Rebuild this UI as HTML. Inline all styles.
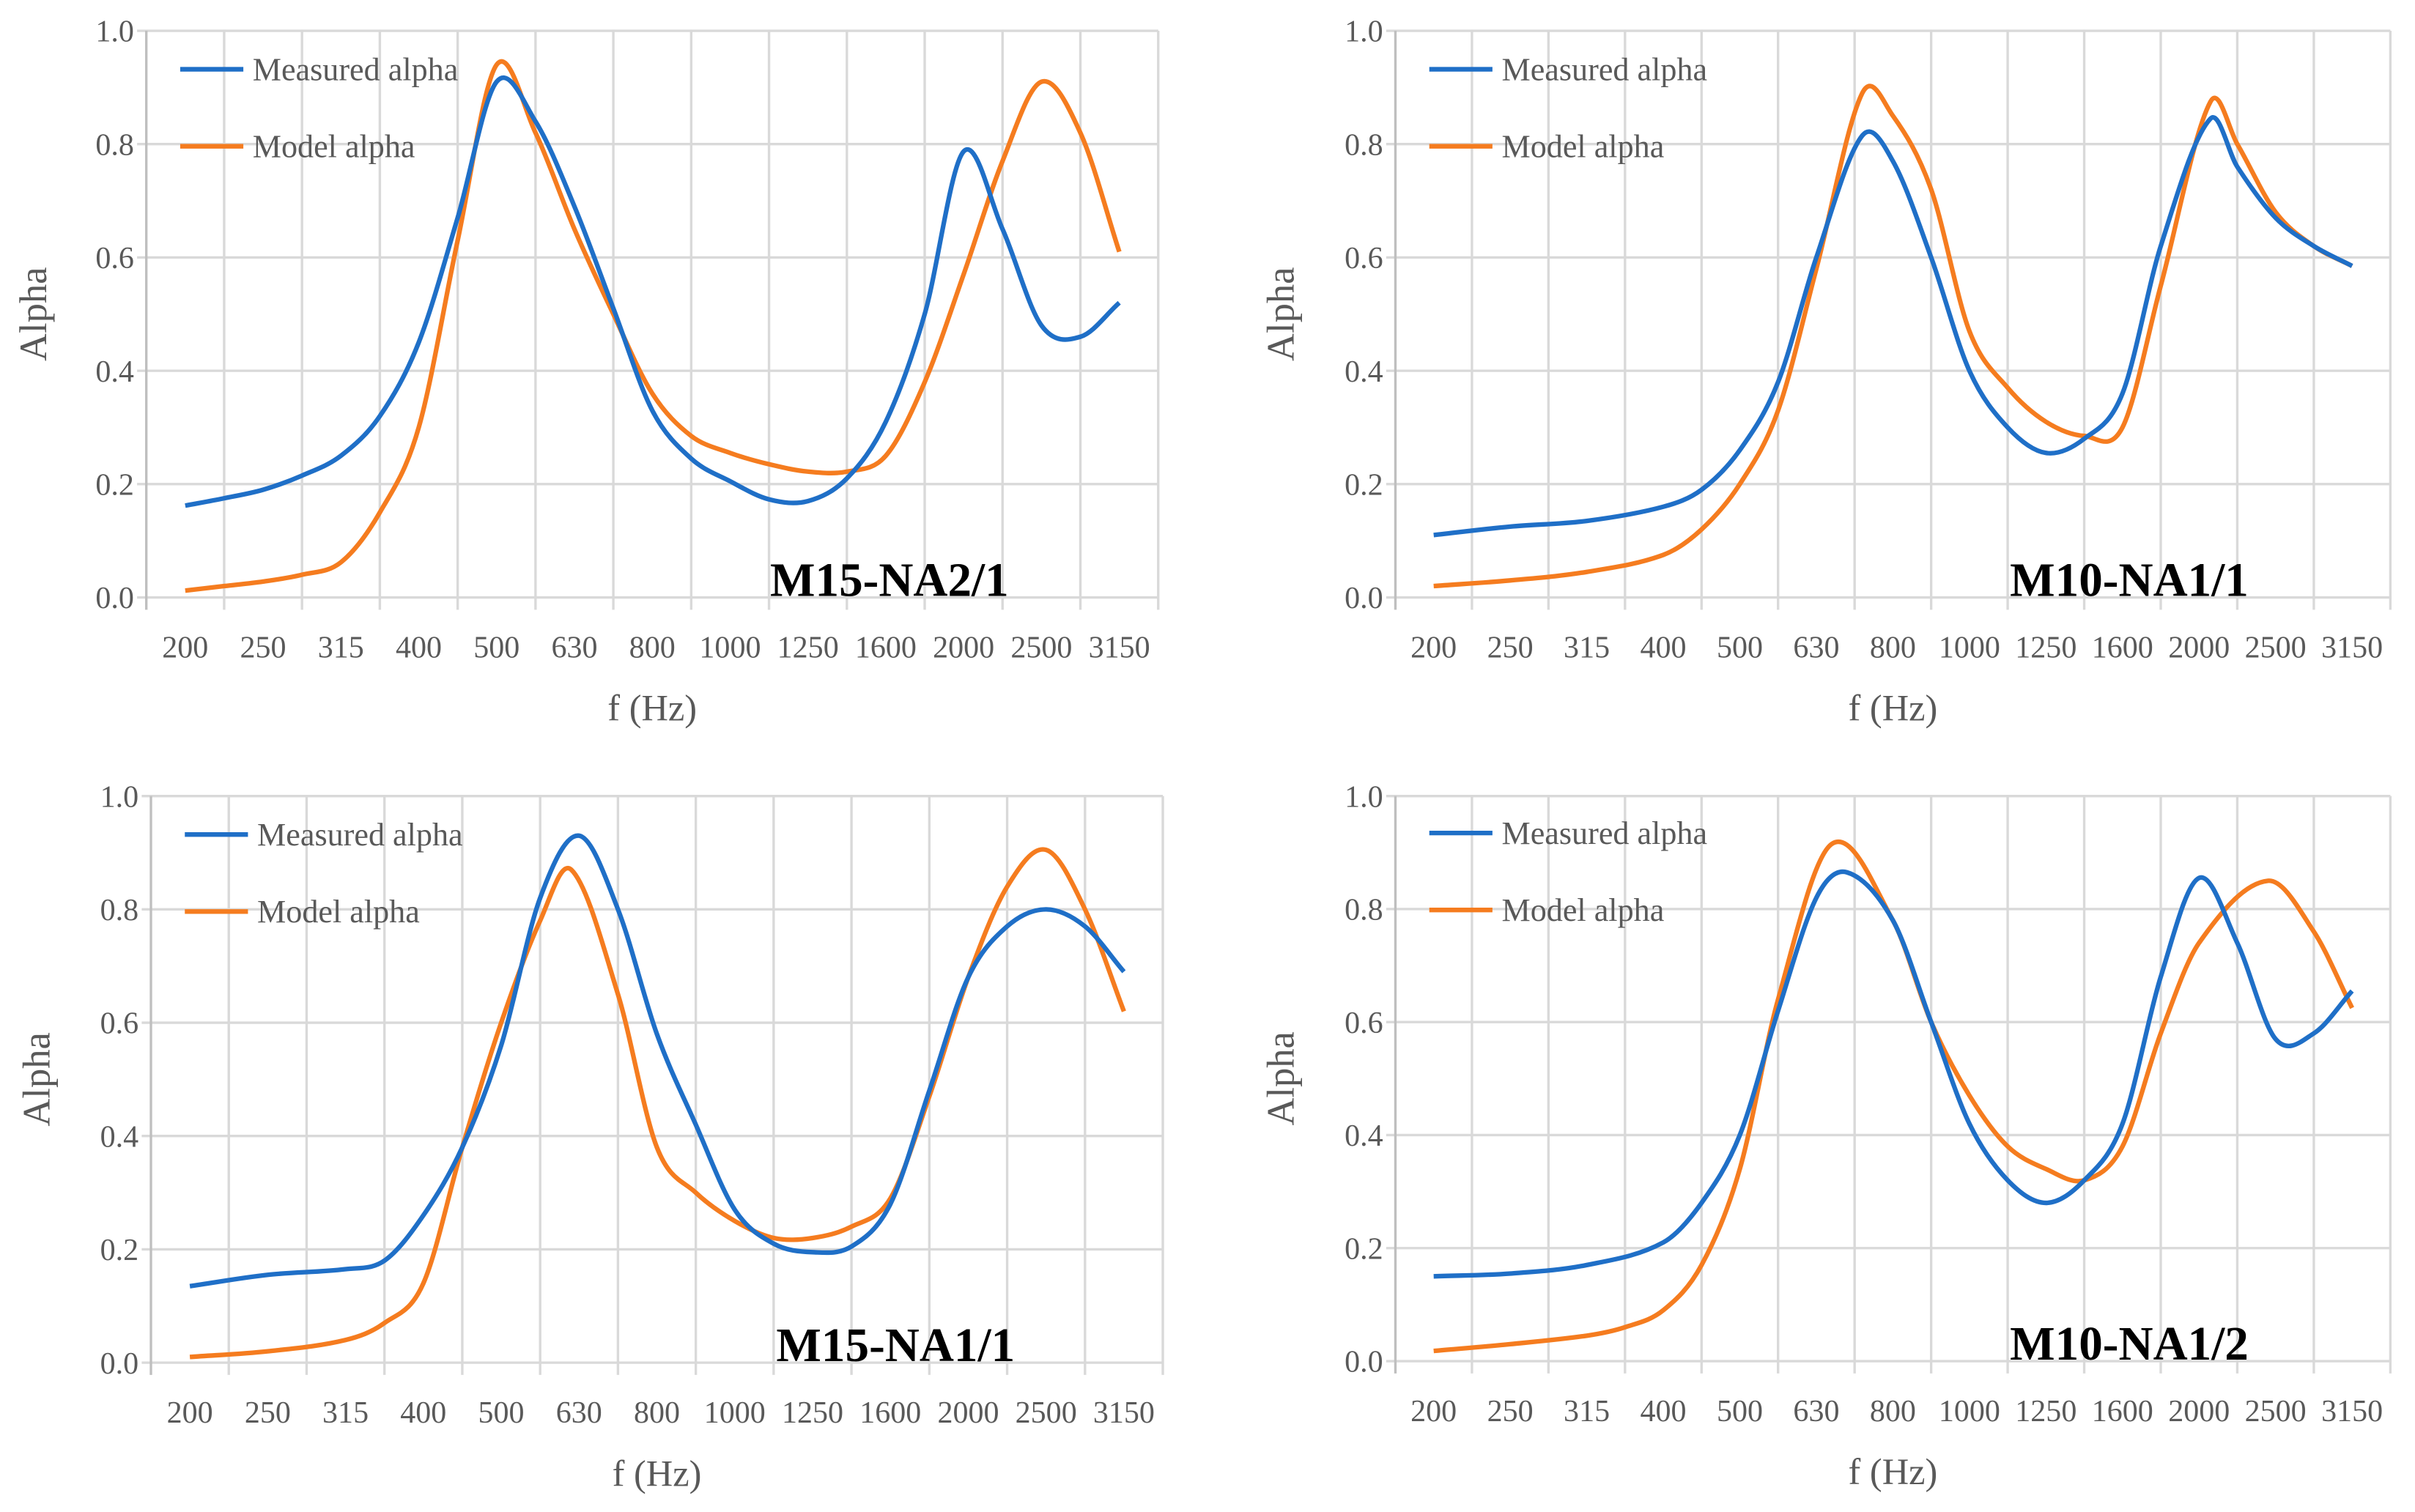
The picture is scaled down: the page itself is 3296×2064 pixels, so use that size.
<!DOCTYPE html>
<html><head><meta charset="utf-8"><style>
html,body{margin:0;padding:0;background:#fff;}
svg{display:block;}
text{font-family:"Liberation Serif",serif;}
</style></head><body>
<svg id="fig" width="3296" height="2064" viewBox="0 0 1568 982" preserveAspectRatio="none" xmlns="http://www.w3.org/2000/svg"></svg>
<script>
const categories = ["200","250","315","400","500","630","800","1000","1250","1600","2000","2500","3150"];
const yTicks = [0,0.2,0.4,0.6,0.8,1.0];
const yTickLabels = ["0.0","0.2","0.4","0.6","0.8","1.0"];

// chart 1: M15-NA2/1
const c1X = [0,0.5,1,1.5,2,2.5,3,3.5,4,4.5,5,5.5,6,6.5,7,7.5,8,8.5,9,9.5,10,10.5,11,11.5,12];
const c1Measured = [0.162,0.175,0.19,0.215,0.25,0.32,0.45,0.67,0.91,0.84,0.69,0.51,0.33,0.245,0.205,0.173,0.17,0.21,0.31,0.5,0.787,0.65,0.48,0.46,0.52];
const c1ModelX = [0,0.5,1,1.5,2,2.5,3,3.5,4,4.5,5,5.5,6,6.5,7,7.5,8,8.5,9,9.5,10,10.5,11,11.5,12];
const c1Model = [0.012,0.02,0.028,0.04,0.062,0.15,0.3,0.63,0.94,0.82,0.65,0.5,0.36,0.285,0.255,0.235,0.222,0.222,0.25,0.38,0.57,0.77,0.91,0.82,0.61];

// chart 2: M10-NA1/1
const c2X = [0,1,2,3,3.5,4,4.5,5,5.6,6,6.5,7,7.5,8,8.5,9,9.5,10.15,10.5,11,11.5,12];
const c2Measured = [0.11,0.125,0.135,0.16,0.19,0.26,0.38,0.6,0.815,0.77,0.6,0.4,0.3,0.255,0.28,0.36,0.62,0.845,0.76,0.67,0.62,0.585];
const c2Model = [0.02,0.03,0.045,0.075,0.12,0.2,0.33,0.58,0.89,0.85,0.72,0.47,0.37,0.31,0.285,0.3,0.55,0.875,0.8,0.68,0.62,0.585];

// chart 3: M15-NA1/1
const c3X = [0,1,2,2.5,3,3.5,4,4.5,5,5.5,6,6.5,7,7.5,8,8.5,9,9.5,10,10.5,11,11.5,12];
const c3Measured = [0.135,0.155,0.165,0.18,0.26,0.38,0.56,0.82,0.93,0.8,0.58,0.42,0.27,0.21,0.195,0.205,0.28,0.48,0.68,0.77,0.8,0.77,0.69];
const c3ModelX = [0,1,2,2.5,3,3.5,4,4.5,4.9,5.5,6,6.5,7,7.5,8,8.5,9,9.5,10,10.5,11,11.5,12];
const c3Model = [0.01,0.02,0.04,0.07,0.14,0.38,0.6,0.78,0.87,0.65,0.38,0.3,0.25,0.22,0.22,0.24,0.29,0.47,0.68,0.84,0.905,0.8,0.62];

// chart 4: M10-NA1/2
const c4X = [0,1,2,3,3.5,4,4.5,5,5.4,6,6.5,7,7.5,8,8.5,9,9.5,10,10.5,11,11.5,12];
const c4Measured = [0.15,0.155,0.17,0.21,0.28,0.4,0.62,0.82,0.865,0.78,0.6,0.42,0.32,0.28,0.32,0.42,0.68,0.855,0.74,0.57,0.58,0.655];
const c4ModelX = [0,1,2,2.5,3,3.5,4,4.5,5.2,6,6.5,7,7.5,8,8.5,9,9.5,10,10.9,11.5,12];
const c4Model = [0.018,0.03,0.045,0.06,0.09,0.17,0.34,0.64,0.915,0.78,0.6,0.47,0.38,0.34,0.32,0.38,0.58,0.74,0.85,0.76,0.625];

const NS="http://www.w3.org/2000/svg";
const svg=document.getElementById('fig');
function mk(tag,attrs,parent){const e=document.createElementNS(NS,tag);for(const k in attrs)e.setAttribute(k,attrs[k]);(parent||svg).appendChild(e);return e;}

function smoothPath(pts){
  const n=pts.length, m=[];
  for(let i=0;i<n;i++){
    const a=pts[Math.max(0,i-1)], b=pts[Math.min(n-1,i+1)];
    m.push((b[1]-a[1])/(b[0]-a[0]));
  }
  let d="M"+pts[0][0].toFixed(2)+","+pts[0][1].toFixed(2);
  for(let i=0;i<n-1;i++){
    const p1=pts[i],p2=pts[i+1],h=p2[0]-p1[0];
    d+="C"+(p1[0]+h/3).toFixed(2)+","+(p1[1]+m[i]*h/3).toFixed(2)+" "+(p2[0]-h/3).toFixed(2)+","+(p2[1]-m[i+1]*h/3).toFixed(2)+" "+p2[0].toFixed(2)+","+p2[1].toFixed(2);
  }
  return d;
}

function chart(cfg){
  const g=mk('g',{});
  
  
  const L=cfg.left,R=cfg.right,T=cfg.top,B=cfg.bottom;
  const n=categories.length, step=(R-L)/n;
  const xs=i=>L+step*(i+0.5);
  const ys=v=>B-(B-T)*v;
  yTicks.forEach((v,i)=>{
    const ln=mk('line',{x1:L-6,x2:R,y1:ys(v),y2:ys(v),stroke:'#d9d9d9','stroke-width':1.6},g);
    
    
    const t=mk('text',{x:L-8,y:ys(v)+7,'text-anchor':'end','font-size':20,fill:'#595959'},g);
    
    
    t.textContent=yTickLabels[i];
  });
  for(let i=0;i<=n;i++){
    const x=L+step*i;
    const ln=mk('line',{x1:x,x2:x,y1:T,y2:B+8,stroke:i==0?'#bfbfbf':'#d9d9d9','stroke-width':1.6},g);
    
    
  }
  categories.forEach((c,i)=>{
    const t=mk('text',{x:xs(i),y:B+39,'text-anchor':'middle','font-size':20,fill:'#595959'},g);
    
    
    t.textContent=c;
  });
  const xt=mk('text',{x:(L+R)/2,y:B+80,'text-anchor':'middle','font-size':24,fill:'#595959'},g);
  
  
  xt.textContent='f (Hz)';
  const yt=mk('text',{x:0,y:0,'text-anchor':'middle','font-size':25,fill:'#595959',transform:'translate('+(cfg.alphaX)+','+((T+B)/2)+') rotate(-90)'},g);
  
  
  yt.textContent='Alpha';
  const pm=cfg.mx.map((x,i)=>[xs(x),ys(cfg.measured[i])]);
  const po=cfg.ox.map((x,i)=>[xs(x),ys(cfg.model[i])]);
  const l2=mk('path',{d:smoothPath(po),fill:'none',stroke:'#f57c1f','stroke-width':3},g);
  
  
  const l1=mk('path',{d:smoothPath(pm),fill:'none',stroke:'#1f6fc7','stroke-width':3},g);
  
  
  const lx=L+22;
  const e1=mk('line',{x1:lx,x2:lx+41,y1:cfg.legY,y2:cfg.legY,stroke:'#1f6fc7','stroke-width':3},g);
  
  
  const t1=mk('text',{x:lx+47,y:cfg.legY+7,'font-size':21,fill:'#595959'},g);
  
  
  t1.textContent='Measured alpha';
  const e2=mk('line',{x1:lx,x2:lx+41,y1:cfg.legY+50,y2:cfg.legY+50,stroke:'#f57c1f','stroke-width':3},g);
  
  
  const t2=mk('text',{x:lx+47,y:cfg.legY+57,'font-size':21,fill:'#595959'},g);
  
  
  t2.textContent='Model alpha';
  const st=mk('text',{x:cfg.labelX,y:B-1,'font-size':31,'font-weight':'bold',fill:'#000'},g);
  
  
  st.textContent=cfg.label;
}

chart({name:'chart-m15-na2-1',left:95,right:752,top:20,bottom:388,alphaX:30,legY:45,labelX:500,label:'M15-NA2/1',mx:c1X,measured:c1Measured,ox:c1ModelX,model:c1Model});
chart({name:'chart-m10-na1-1',left:906,right:1552,top:20,bottom:388,alphaX:840,legY:45,labelX:1305,label:'M10-NA1/1',mx:c2X,measured:c2Measured,ox:c2X,model:c2Model});
chart({name:'chart-m15-na1-1',left:98,right:755,top:517,bottom:885,alphaX:32,legY:542,labelX:504,label:'M15-NA1/1',mx:c3X,measured:c3Measured,ox:c3ModelX,model:c3Model});
chart({name:'chart-m10-na1-2',left:906,right:1552,top:517,bottom:884,alphaX:840,legY:541,labelX:1305,label:'M10-NA1/2',mx:c4X,measured:c4Measured,ox:c4ModelX,model:c4Model});
</script>
</body></html>
